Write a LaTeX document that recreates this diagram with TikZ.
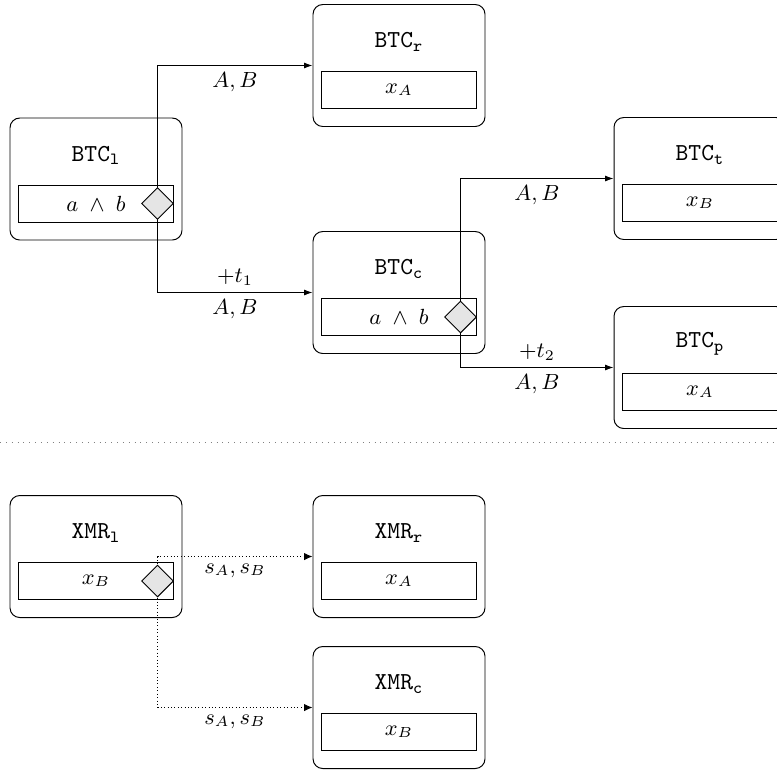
\documentclass[tikz,border=0pt]{standalone}
\usetikzlibrary{shapes.geometric,arrows.meta,backgrounds}
\newcommand\chainbox[5]{%
  \node[outerbox] (#1) at (#2,#3) {};
  \node (#1t) at (#2,#3-23.5) {#4};
  \node[innerbox] (#1i) at (#2,#3+24.5) {#5};
}
\begin{document}
\begin{tikzpicture}[x=0.41pt,y=-0.41pt,
  outerbox/.style={draw, rounded corners=4pt, minimum width=172*0.41pt, minimum height=122*0.41pt, inner sep=0pt},
  innerbox/.style={draw, minimum width=155*0.41pt, minimum height=37*0.41pt, inner sep=0pt, font=\small},
  gate/.style={draw, diamond, fill=gray!20, minimum width=32*0.41pt, minimum height=32*0.41pt, inner sep=0pt},
  flow/.style={-{Latex[length=3.4pt,width=2.4pt]}},
  secret/.style={densely dotted, -{Latex[length=3.4pt,width=3pt]}},
  lbl/.style={inner sep=2.8pt, font=\small}]
\useasboundingbox (0,0) rectangle (777,773);
\clip (0,0) rectangle (777,773);

\chainbox{BTCl}{96}{179}{\texttt{BTC}$_{\mathtt{l}}$}{$a\;\wedge\;b$}
\chainbox{BTCr}{399}{65.5}{\texttt{BTC}$_{\mathtt{r}}$}{$x_A$}
\chainbox{BTCc}{399}{292.5}{\texttt{BTC}$_{\mathtt{c}}$}{$a\;\wedge\;b$}
\chainbox{BTCt}{700}{178.5}{\texttt{BTC}$_{\mathtt{t}}$}{$x_B$}
\chainbox{BTCp}{700}{367.5}{\texttt{BTC}$_{\mathtt{p}}$}{$x_A$}
\chainbox{XMRl}{96}{556.5}{\texttt{XMR}$_{\mathtt{l}}$}{$x_B$}
\chainbox{XMRr}{399}{556.5}{\texttt{XMR}$_{\mathtt{r}}$}{$x_A$}
\chainbox{XMRc}{399}{707.5}{\texttt{XMR}$_{\mathtt{c}}$}{$x_B$}

\node[gate, anchor=east] (g1) at (BTCli.east) {};
\node[gate, anchor=east] (g2) at (BTCci.east) {};
\node[gate, anchor=east] (g3) at (XMRli.east) {};

\coordinate (sepL) at (0,442);
\coordinate (sepR) at (777,442);
\draw[dotted, gray] (sepL) -- (sepR);

\begin{pgfonlayer}{background}
\draw[flow] (g1.center) |- node[lbl, below, pos=0.75] {$A, B$} (BTCr.west);
\draw[flow] (g1.center) |- node[lbl, above, pos=0.75] {$+t_1$} node[lbl, below, pos=0.75] {$A, B$} (BTCc.west);
\draw[flow] (g2.center) |- node[lbl, below, pos=0.75] {$A, B$} (BTCt.west);
\draw[flow] (g2.center) |- node[lbl, above, pos=0.75] {$+t_2$} node[lbl, below, pos=0.75] {$A, B$} (BTCp.west);
\draw[secret] (g3.center) |- node[lbl, below, pos=0.75] {$s_A, s_B$} (XMRr.west);
\draw[secret] (g3.center) |- node[lbl, below, pos=0.75] {$s_A, s_B$} (XMRc.west);
\end{pgfonlayer}
\end{tikzpicture}
\end{document}
